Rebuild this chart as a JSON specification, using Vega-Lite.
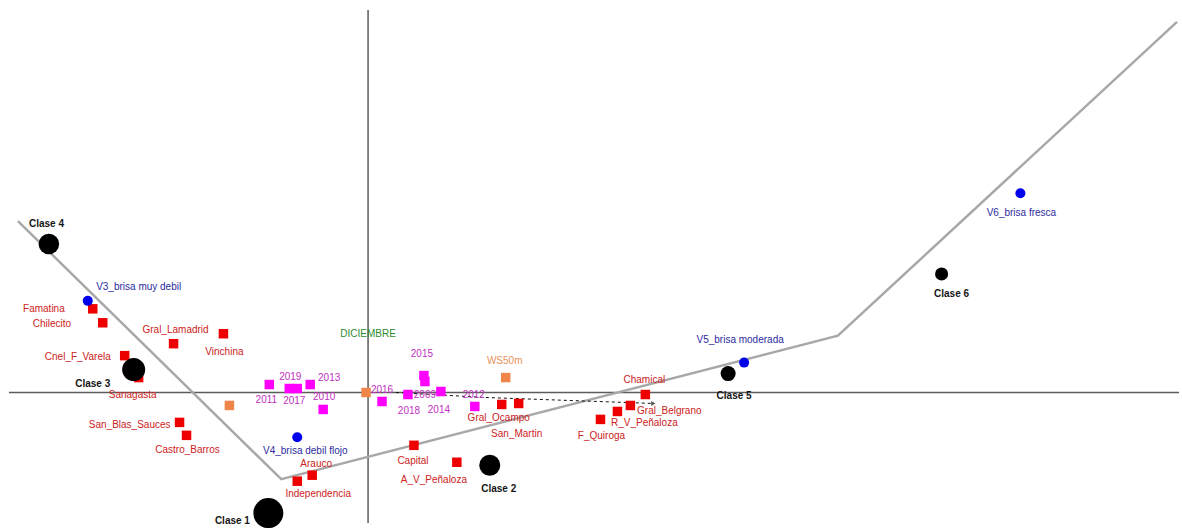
{
  "$schema": "https://vega.github.io/schema/vega-lite/v6.json",
  "autosize": {"type": "fit", "contains": "padding"},
  "width": 1182,
  "height": 528,
  "padding": 0,
  "background": "white",
  "view": {"stroke": null},
  "config": {"text": {"font": "Liberation Sans", "fontSize": 10}},
  "datasets": {
    "ejes": [
      {"x": -1.8, "x2": 4.065, "y": 0, "y2": 0},
      {"x": 0, "x2": 0, "y": 1.92, "y2": -0.655}
    ],
    "trayectoria": [
      {"orden": 1, "x": -1.755, "y": 0.86},
      {"orden": 2, "x": -0.435, "y": -0.435},
      {"orden": 3, "x": 2.355, "y": 0.285},
      {"orden": 4, "x": 4.055, "y": 1.86}
    ],
    "flecha": [
      {"orden": 1, "x": 0.14, "y": 0.0},
      {"orden": 2, "x": 0.59, "y": -0.025},
      {"orden": 3, "x": 1.43, "y": -0.055}
    ],
    "puntos": [
      {"nombre": "Clase 1", "grupo": "clase", "x": -0.5, "y": -0.605, "lx": -0.68, "ly": -0.645, "masa": 1.0},
      {"nombre": "Clase 2", "grupo": "clase", "x": 0.61, "y": -0.365, "lx": 0.655, "ly": -0.485, "masa": 0.49},
      {"nombre": "Clase 3", "grupo": "clase", "x": -1.175, "y": 0.115, "lx": -1.38, "ly": 0.045, "masa": 0.59},
      {"nombre": "Clase 4", "grupo": "clase", "x": -1.6, "y": 0.745, "lx": -1.612, "ly": 0.845, "masa": 0.47},
      {"nombre": "Clase 5", "grupo": "clase", "x": 1.805, "y": 0.095, "lx": 1.835, "ly": -0.02, "masa": 0.25},
      {"nombre": "Clase 6", "grupo": "clase", "x": 2.875, "y": 0.595, "lx": 2.925, "ly": 0.495, "masa": 0.19},
      {"nombre": "V3_brisa muy debil", "grupo": "variable", "x": -1.405, "y": 0.46, "lx": -1.15, "ly": 0.53},
      {"nombre": "V4_brisa debil flojo", "grupo": "variable", "x": -0.355, "y": -0.225, "lx": -0.315, "ly": -0.295},
      {"nombre": "V5_brisa moderada", "grupo": "variable", "x": 1.885, "y": 0.15, "lx": 1.865, "ly": 0.265},
      {"nombre": "V6_brisa fresca", "grupo": "variable", "x": 3.27, "y": 1.0, "lx": 3.275, "ly": 0.9},
      {"nombre": "Famatina", "grupo": "departamento", "x": -1.38, "y": 0.42, "lx": -1.625, "ly": 0.42},
      {"nombre": "Chilecito", "grupo": "departamento", "x": -1.33, "y": 0.35, "lx": -1.585, "ly": 0.345},
      {"nombre": "Gral_Lamadrid", "grupo": "departamento", "x": -0.975, "y": 0.245, "lx": -0.965, "ly": 0.315},
      {"nombre": "Vinchina", "grupo": "departamento", "x": -0.725, "y": 0.295, "lx": -0.72, "ly": 0.205},
      {"nombre": "Cnel_F_Varela", "grupo": "departamento", "x": -1.22, "y": 0.185, "lx": -1.455, "ly": 0.18},
      {"nombre": "Sanagasta", "grupo": "departamento", "x": -1.15, "y": 0.075, "lx": -1.18, "ly": -0.015},
      {"nombre": "San_Blas_Sauces", "grupo": "departamento", "x": -0.945, "y": -0.15, "lx": -1.195, "ly": -0.165},
      {"nombre": "Castro_Barros", "grupo": "departamento", "x": -0.91, "y": -0.215, "lx": -0.905, "ly": -0.29},
      {"nombre": "Arauco", "grupo": "departamento", "x": -0.28, "y": -0.415, "lx": -0.26, "ly": -0.36},
      {"nombre": "Independencia", "grupo": "departamento", "x": -0.355, "y": -0.445, "lx": -0.25, "ly": -0.51},
      {"nombre": "Capital", "grupo": "departamento", "x": 0.23, "y": -0.265, "lx": 0.225, "ly": -0.345},
      {"nombre": "A_V_Peñaloza", "grupo": "departamento", "x": 0.445, "y": -0.35, "lx": 0.33, "ly": -0.44},
      {"nombre": "Gral_Ocampo", "grupo": "departamento", "x": 0.67, "y": -0.06, "lx": 0.655, "ly": -0.13},
      {"nombre": "San_Martin", "grupo": "departamento", "x": 0.755, "y": -0.055, "lx": 0.745, "ly": -0.21},
      {"nombre": "Chamical", "grupo": "departamento", "x": 1.39, "y": -0.01, "lx": 1.385, "ly": 0.065},
      {"nombre": "Gral_Belgrano", "grupo": "departamento", "x": 1.315, "y": -0.065, "lx": 1.51, "ly": -0.095},
      {"nombre": "R_V_Peñaloza", "grupo": "departamento", "x": 1.25, "y": -0.095, "lx": 1.385, "ly": -0.155},
      {"nombre": "F_Quiroga", "grupo": "departamento", "x": 1.165, "y": -0.135, "lx": 1.17, "ly": -0.22},
      {"nombre": "2011", "grupo": "anio", "x": -0.495, "y": 0.04, "lx": -0.51, "ly": -0.04},
      {"nombre": "2019", "grupo": "anio", "x": -0.395, "y": 0.02, "lx": -0.39, "ly": 0.08},
      {"nombre": "2017", "grupo": "anio", "x": -0.355, "y": 0.02, "lx": -0.37, "ly": -0.045},
      {"nombre": "2013", "grupo": "anio", "x": -0.29, "y": 0.04, "lx": -0.195, "ly": 0.075},
      {"nombre": "2010", "grupo": "anio", "x": -0.225, "y": -0.085, "lx": -0.22, "ly": -0.025},
      {"nombre": "2016", "grupo": "anio", "x": 0.07, "y": -0.045, "lx": 0.07, "ly": 0.015},
      {"nombre": "2018", "grupo": "anio", "x": 0.2, "y": -0.01, "lx": 0.205, "ly": -0.095},
      {"nombre": "2015", "grupo": "anio", "x": 0.28, "y": 0.085, "lx": 0.27, "ly": 0.195},
      {"nombre": "2009", "grupo": "anio", "x": 0.285, "y": 0.055, "lx": 0.285, "ly": -0.01},
      {"nombre": "2014", "grupo": "anio", "x": 0.365, "y": 0.005, "lx": 0.355, "ly": -0.09},
      {"nombre": "2012", "grupo": "anio", "x": 0.535, "y": -0.07, "lx": 0.53, "ly": -0.015},
      {"nombre": "WS50m", "grupo": "ws", "x": 0.69, "y": 0.075, "lx": 0.685, "ly": 0.16},
      {"nombre": "", "grupo": "ws", "x": -0.01, "y": 0.0, "lx": -0.01, "ly": 0.0},
      {"nombre": "", "grupo": "ws", "x": -0.695, "y": -0.065, "lx": -0.695, "ly": -0.065},
      {"nombre": "DICIEMBRE", "grupo": "mes", "x": 0.0, "y": 0.295, "lx": 0.0, "ly": 0.295}
    ]
  },
  "encoding": {
    "x": {"type": "quantitative", "scale": {"domain": [-1.845, 4.065], "nice": false, "zero": false}, "axis": null},
    "y": {"type": "quantitative", "scale": {"domain": [-0.67, 1.97], "nice": false, "zero": false}, "axis": null}
  },
  "layer": [
    {
      "data": {"name": "ejes"},
      "mark": {"type": "rule", "color": "#5c5c5c", "strokeWidth": 1.5},
      "encoding": {
        "x": {"field": "x", "type": "quantitative"},
        "x2": {"field": "x2"},
        "y": {"field": "y", "type": "quantitative"},
        "y2": {"field": "y2"}
      }
    },
    {
      "data": {"name": "trayectoria"},
      "mark": {"type": "line", "color": "#a8a8a8", "strokeWidth": 2.5},
      "encoding": {
        "x": {"field": "x", "type": "quantitative"},
        "y": {"field": "y", "type": "quantitative"},
        "order": {"field": "orden", "type": "quantitative"}
      }
    },
    {
      "data": {"name": "flecha"},
      "mark": {"type": "line", "color": "#111111", "strokeWidth": 1, "strokeDash": [3, 3]},
      "encoding": {
        "x": {"field": "x", "type": "quantitative"},
        "y": {"field": "y", "type": "quantitative"},
        "order": {"field": "orden", "type": "quantitative"}
      }
    },
    {
      "data": {"name": "flecha"},
      "transform": [{"filter": "datum.orden == 3"}],
      "mark": {"type": "point", "shape": "triangle-right", "filled": true, "color": "#111111", "size": 25},
      "encoding": {
        "x": {"field": "x", "type": "quantitative"},
        "y": {"field": "y", "type": "quantitative"}
      }
    },
    {
      "data": {"name": "puntos"},
      "transform": [{"filter": "datum.grupo == 'ws'"}],
      "mark": {"type": "point", "shape": "square", "filled": true, "opacity": 1, "color": "#f0854a", "size": 90},
      "encoding": {
        "x": {"field": "x", "type": "quantitative"},
        "y": {"field": "y", "type": "quantitative"}
      }
    },
    {
      "data": {"name": "puntos"},
      "transform": [{"filter": "datum.grupo == 'anio'"}],
      "mark": {"type": "point", "shape": "square", "filled": true, "opacity": 1, "color": "#ff00ff", "size": 90},
      "encoding": {
        "x": {"field": "x", "type": "quantitative"},
        "y": {"field": "y", "type": "quantitative"}
      }
    },
    {
      "data": {"name": "puntos"},
      "transform": [{"filter": "datum.grupo == 'departamento'"}],
      "mark": {"type": "point", "shape": "square", "filled": true, "opacity": 1, "color": "#ee0000", "size": 90},
      "encoding": {
        "x": {"field": "x", "type": "quantitative"},
        "y": {"field": "y", "type": "quantitative"}
      }
    },
    {
      "data": {"name": "puntos"},
      "transform": [{"filter": "datum.grupo == 'variable'"}],
      "mark": {"type": "point", "shape": "circle", "filled": true, "opacity": 1, "color": "#0000ee", "size": 100},
      "encoding": {
        "x": {"field": "x", "type": "quantitative"},
        "y": {"field": "y", "type": "quantitative"}
      }
    },
    {
      "data": {"name": "puntos"},
      "transform": [{"filter": "datum.grupo == 'clase'"}],
      "mark": {"type": "point", "shape": "circle", "filled": true, "opacity": 1, "color": "#000000"},
      "encoding": {
        "x": {"field": "x", "type": "quantitative"},
        "y": {"field": "y", "type": "quantitative"},
        "size": {"field": "masa", "type": "quantitative", "scale": {"domain": [0, 1], "range": [0, 900], "zero": true}, "legend": null}
      }
    },
    {
      "data": {"name": "puntos"},
      "transform": [{"filter": "datum.grupo != 'clase' && datum.nombre != ''"}],
      "mark": {"type": "text", "align": "center", "baseline": "middle"},
      "encoding": {
        "x": {"field": "lx", "type": "quantitative"},
        "y": {"field": "ly", "type": "quantitative"},
        "text": {"field": "nombre"},
        "color": {
          "field": "grupo",
          "type": "nominal",
          "scale": {
            "domain": ["departamento", "anio", "ws", "variable", "mes"],
            "range": ["#cc2222", "#c030c0", "#e8925a", "#2b2b9e", "#2e8b2e"]
          },
          "legend": null
        }
      }
    },
    {
      "data": {"name": "puntos"},
      "transform": [{"filter": "datum.grupo == 'clase'"}],
      "mark": {"type": "text", "align": "center", "baseline": "middle", "fontWeight": "bold", "color": "#151515"},
      "encoding": {
        "x": {"field": "lx", "type": "quantitative"},
        "y": {"field": "ly", "type": "quantitative"},
        "text": {"field": "nombre"}
      }
    }
  ]
}
